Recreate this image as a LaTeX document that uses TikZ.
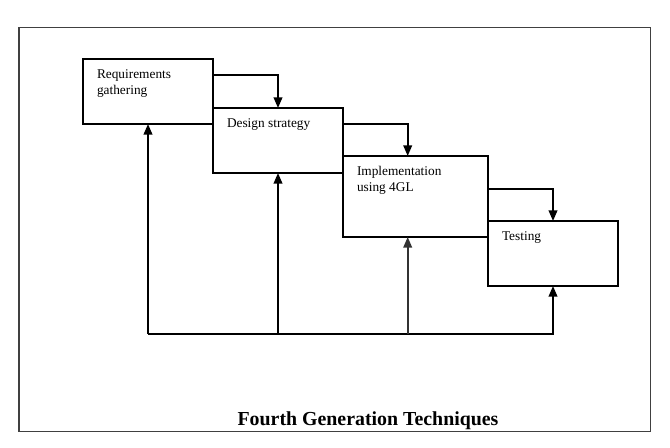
\documentclass[tikz,border=0pt]{standalone}
\usepackage{fontspec}
\setmainfont{Liberation Serif}
\usetikzlibrary{arrows.meta}

\begin{document}
\begin{tikzpicture}[x=0.75pt,y=-0.75pt]
              \tikzstyle{every node}+=[inner sep=0pt, outer sep=0pt]
              \tikzstyle{phase}=[draw=black, line width=1pt, anchor=north west, minimum width=97.5pt,
                label distance=0pt, font=\fontsize{10.8}{12.6}\selectfont]
              \tikzstyle{inlbl}=[anchor=north west, align=left, xshift=10.5pt, yshift=-8pt]
              \tikzstyle{flow}=[black, line width=1.3pt, -{Triangle[width=6.5pt,length=8pt]}]
              \useasboundingbox (0,0) rectangle (670,448);
              \draw [black!75, line width=1pt] (19,27.3) rectangle (650.7,431.3);
              \node [phase, minimum height=48.75pt, label={[inlbl]north west:Requirements\\gathering}] (req) at (83,59) {};
              \node [phase, minimum height=48.75pt, label={[inlbl]north west:Design strategy}] (des) at (213,108) {};
              \node [phase, minimum width=108.75pt, minimum height=60.75pt, label={[inlbl]north west:Implementation\\using 4GL}] (imp) at (343,156) {};
              \node [phase, minimum height=48.75pt, label={[inlbl]north west:Testing}] (tst) at (488,221) {};
              \coordinate (impin) at ([xshift=-5.85pt]imp.north);
              \coordinate (impout) at ([xshift=-5.85pt]imp.south);
              \draw [flow] ([yshift=-12pt]req.north east) -| (des.north);
              \draw [flow] ([yshift=-12pt]des.north east) -| (impin);
              \draw [flow] ([yshift=-24.75pt]imp.north east) -| (tst.north);
              \coordinate (fb) at (148,334);
              \draw [flow] (fb) -- (req.south);
              \draw [flow] (fb) -| (tst.south);
              \draw [flow] (des.south |- fb) -- (des.south);
              \draw [flow, black!80] (impout |- fb) -- (impout);
              \node [anchor=base, font=\fontsize{14.9}{17}\selectfont\bfseries] (title) at (368,425) {Fourth Generation Techniques};
            \end{tikzpicture}
\end{document}
